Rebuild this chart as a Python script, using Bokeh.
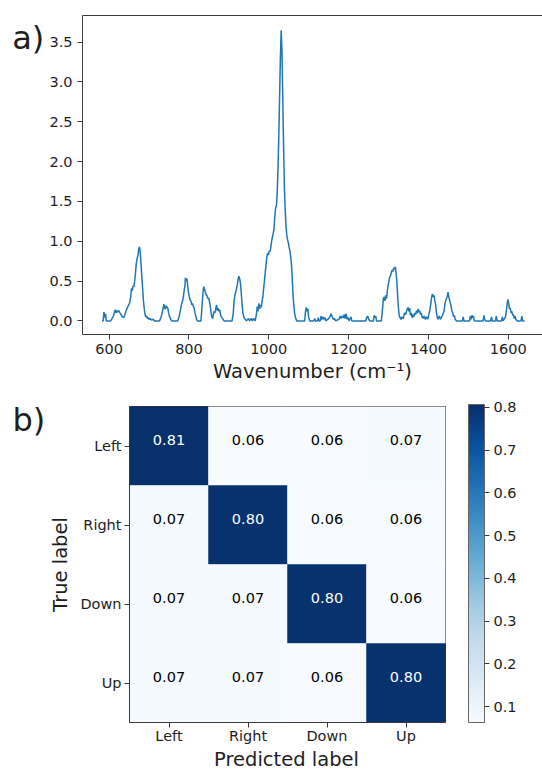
from bokeh.plotting import figure
from bokeh.layouts import column, row
from bokeh.models import (ColumnDataSource, LinearColorMapper, ColorBar, FixedTicker,
                          PrintfTickFormatter, LinearAxis, Range1d)
from bokeh.palettes import Blues256
from bokeh.transform import transform
from bokeh.core.properties import value
from bokeh.embed import file_html
from bokeh.resources import INLINE

FONT = "DejaVu Sans"

# ---------------- data: spectrum ----------------
wavenumber = [
    582, 585, 587, 589, 591, 593, 604, 607, 610, 613, 615, 617, 619, 621, 624, 627, 630, 633, 636, 639,
    642, 645, 648, 651, 654, 656, 658, 660, 662, 664, 666, 668, 670, 672, 674, 676, 678, 680, 682, 684,
    686, 688, 690, 692, 694, 696, 698, 700, 703, 706, 710, 714, 726, 729, 732, 735, 737, 739, 741, 743,
    745, 747, 749, 751, 754, 757, 772, 775, 778, 781, 784, 786, 788, 790, 791, 793, 795, 797, 799, 801,
    803, 805, 807, 809, 811, 813, 815, 817, 819, 821, 830, 833, 835, 837, 839, 841, 843, 845, 847, 849,
    851, 853, 855, 857, 859, 861, 863, 865, 867, 869, 871, 873, 875, 877, 879, 881, 884, 888, 908, 911,
    913, 915, 918, 921, 923, 925, 927, 929, 931, 933, 935, 938, 941, 944, 949, 952, 956, 959, 962, 966,
    969, 971, 973, 975, 977, 979, 981, 983, 985, 987, 989, 991, 993, 995, 997, 999, 1001, 1003, 1005, 1007,
    1009, 1011, 1013, 1015, 1017, 1019, 1021, 1023, 1025, 1027, 1029, 1031, 1033, 1035, 1037, 1039, 1041, 1043, 1045, 1047,
    1049, 1051, 1053, 1055, 1057, 1059, 1061, 1063, 1065, 1067, 1070, 1090, 1092, 1094, 1096, 1098, 1100, 1103, 1113, 1115,
    1117, 1122, 1124, 1126, 1129, 1131, 1133, 1136, 1138, 1141, 1143, 1150, 1153, 1156, 1159, 1162, 1165, 1167, 1176, 1179,
    1181, 1184, 1187, 1189, 1191, 1194, 1196, 1199, 1201, 1206, 1208, 1243, 1245, 1248, 1250, 1253, 1262, 1264, 1266, 1268,
    1270, 1282, 1285, 1287, 1289, 1291, 1293, 1295, 1297, 1299, 1301, 1303, 1305, 1307, 1309, 1311, 1313, 1315, 1317, 1319,
    1321, 1323, 1325, 1327, 1329, 1331, 1334, 1337, 1340, 1343, 1346, 1349, 1351, 1353, 1355, 1357, 1359, 1361, 1363, 1366,
    1368, 1370, 1372, 1374, 1376, 1378, 1380, 1382, 1384, 1386, 1389, 1392, 1395, 1398, 1401, 1404, 1406, 1408, 1410, 1412,
    1414, 1416, 1418, 1420, 1422, 1424, 1427, 1430, 1433, 1436, 1439, 1441, 1443, 1445, 1447, 1449, 1451, 1453, 1455, 1457,
    1459, 1461, 1463, 1465, 1467, 1470, 1485, 1487, 1489, 1503, 1505, 1507, 1509, 1511, 1513, 1515, 1537, 1539, 1541, 1543,
    1556, 1558, 1560, 1568, 1570, 1572, 1583, 1585, 1587, 1593, 1595, 1597, 1599, 1601, 1603, 1605, 1607, 1609, 1611, 1613,
    1615, 1617, 1619, 1622, 1632, 1634, 1636, 1641,
]
intensity = [
    0, 0, 0.11, 0.04, 0.09, 0, 0, 0.03, 0.05, 0.10, 0.14, 0.10, 0.13, 0.11, 0.13, 0.10, 0.08, 0.05, 0.04, 0.07,
    0.12, 0.16, 0.19, 0.22, 0.30, 0.41, 0.38, 0.44, 0.43, 0.50, 0.60, 0.72, 0.78, 0.82, 0.90, 0.93, 0.85, 0.70, 0.55, 0.40,
    0.25, 0.15, 0.08, 0.05, 0.06, 0.03, 0.04, 0.02, 0.03, 0.01, 0.02, 0, 0, 0.03, 0.08, 0.15, 0.21, 0.16, 0.15, 0.19,
    0.17, 0.16, 0.10, 0.06, 0.02, 0, 0, 0.05, 0.12, 0.20, 0.25, 0.30, 0.38, 0.45, 0.54, 0.50, 0.53, 0.43, 0.35, 0.30,
    0.26, 0.25, 0.20, 0.22, 0.18, 0.16, 0.10, 0.06, 0.02, 0, 0, 0.20, 0.35, 0.43, 0.40, 0.36, 0.33, 0.32, 0.28, 0.29,
    0.25, 0.20, 0.12, 0.05, 0.03, 0.08, 0.12, 0.10, 0.15, 0.20, 0.13, 0.16, 0.12, 0.14, 0.08, 0.05, 0.03, 0, 0, 0.10,
    0.25, 0.32, 0.38, 0.45, 0.52, 0.56, 0.53, 0.47, 0.35, 0.22, 0.10, 0.04, 0.02, 0, 0.03, 0, 0.03, 0, 0.03, 0,
    0.08, 0.18, 0.12, 0.22, 0.15, 0.20, 0.17, 0.24, 0.30, 0.40, 0.50, 0.60, 0.70, 0.80, 0.85, 0.83, 0.88, 0.87, 0.92, 1.00,
    1.05, 1.10, 1.15, 1.30, 1.42, 1.44, 1.60, 1.90, 2.30, 2.80, 3.30, 3.65, 3.40, 2.80, 2.20, 1.70, 1.40, 1.20, 1.08, 1.02,
    0.98, 0.92, 0.88, 0.80, 0.70, 0.50, 0.30, 0.18, 0.08, 0.04, 0, 0, 0.12, 0.17, 0.12, 0.15, 0.04, 0, 0, 0.03,
    0, 0, 0.04, 0, 0, 0.06, 0.02, 0.05, 0.02, 0.04, 0, 0.03, 0.05, 0.09, 0.05, 0.02, 0.03, 0, 0.02, 0.06,
    0.03, 0.06, 0.04, 0.08, 0.03, 0.09, 0.02, 0.04, 0, 0.05, 0, 0, 0.04, 0.06, 0.02, 0, 0, 0.07, 0.04, 0.06,
    0, 0, 0.15, 0.28, 0.30, 0.25, 0.32, 0.28, 0.38, 0.45, 0.50, 0.55, 0.57, 0.60, 0.64, 0.62, 0.67, 0.65, 0.68, 0.60,
    0.48, 0.30, 0.15, 0.06, 0.04, 0.02, 0.05, 0.03, 0.10, 0.08, 0.14, 0.17, 0.12, 0.16, 0.07, 0.10, 0.04, 0.08, 0.05, 0.10,
    0.08, 0.13, 0.10, 0.15, 0.11, 0.13, 0.08, 0.10, 0.05, 0.03, 0.06, 0.02, 0.05, 0.02, 0.08, 0.15, 0.22, 0.30, 0.34, 0.30,
    0.32, 0.25, 0.20, 0.10, 0.05, 0.02, 0.06, 0.02, 0.05, 0.08, 0.12, 0.20, 0.25, 0.28, 0.30, 0.36, 0.30, 0.26, 0.22, 0.18,
    0.12, 0.10, 0.05, 0.07, 0.02, 0, 0, 0.05, 0, 0, 0.06, 0.02, 0.07, 0.04, 0.06, 0, 0, 0.07, 0.02, 0,
    0, 0.05, 0, 0, 0.06, 0, 0, 0.05, 0, 0.05, 0.12, 0.20, 0.27, 0.22, 0.15, 0.16, 0.10, 0.12, 0.07, 0.08,
    0.03, 0.06, 0.02, 0, 0, 0.06, 0, 0,
]
spec_xticks = [600, 800, 1000, 1200, 1400, 1600]
spec_yticks = [0.0, 0.5, 1.0, 1.5, 2.0, 2.5, 3.0, 3.5]

# ---------------- data: confusion matrix ----------------
classes = ["Left", "Right", "Down", "Up"]
row_left = [0.81, 0.06, 0.06, 0.07]
row_right = [0.07, 0.80, 0.06, 0.06]
row_down = [0.07, 0.07, 0.80, 0.06]
row_up = [0.07, 0.07, 0.06, 0.80]
cbar_ticks = [0.1, 0.2, 0.3, 0.4, 0.5, 0.6, 0.7, 0.8]
cbar_low, cbar_high = 0.063, 0.807

AX = "#3a3a3a"
TXT = "#1e1e1e"


def text_strip(w, h, txt, tx, ty, size, align):
    """A blank canvas (pixel coordinates) holding one piece of text."""
    f = figure(width=w, height=h, x_range=Range1d(0, w), y_range=Range1d(0, h),
               x_axis_type=None, y_axis_type=None, min_border=0,
               output_backend="svg", toolbar_location=None)
    f.outline_line_color = None
    f.grid.visible = False
    f.text(x=[tx], y=[ty], text=[txt], text_font=value(FONT), text_font_size=size,
           text_color=TXT, text_align=align, text_baseline="alphabetic")
    return f


LW = 46
W = 542 - LW
FL1 = 81 - LW      # left border of panel a) so that its frame starts at x=81
FL2 = 127 - LW     # left border of panel b) so that its frame starts at x=127

# ================= panel a) =================
H1 = 388
p1 = figure(width=W, height=H1,
            x_range=Range1d(533.25, 533.25 + (W - FL1) / 0.4), y_range=Range1d(-0.171, 3.835),
            output_backend="svg", toolbar_location=None,
            min_border_left=FL1, min_border_right=0, min_border_top=15, min_border_bottom=54)
p1.line(wavenumber, intensity, line_color="#1f77b4", line_width=1.5)
p1.xgrid.visible = False
p1.ygrid.visible = False
p1.outline_line_color = None

xax = p1.below[0]
yax = p1.left[0]
top_ax = LinearAxis(ticker=FixedTicker(ticks=[]), major_tick_line_color=None,
                    minor_tick_line_color=None, major_label_text_font_size="0px",
                    major_label_standoff=0, axis_line_color=AX, axis_line_width=1)
p1.add_layout(top_ax, "above")

xax.ticker = FixedTicker(ticks=spec_xticks)
yax.ticker = FixedTicker(ticks=spec_yticks)
yax.formatter = PrintfTickFormatter(format="%.1f")
for ax in (xax, yax):
    ax.minor_tick_line_color = None
    ax.major_tick_in = 0
    ax.major_tick_out = 5
    ax.major_tick_line_color = AX
    ax.axis_line_color = AX
    ax.major_label_text_font = FONT
    ax.major_label_text_font_size = "14.5px"
    ax.major_label_text_color = TXT
xax.major_label_standoff = 4
yax.major_label_standoff = 5
xax.axis_label = "Wavenumber (cm\u207b\u00b9)"
xax.axis_label_text_font = FONT
xax.axis_label_text_font_style = "normal"
xax.axis_label_text_font_size = "19.5px"
xax.axis_label_text_color = TXT
xax.axis_label_standoff = 3

lab_a = text_strip(LW, H1, "a)", 11.7, H1 - 27.5, "32px", "left")

# ================= panel b) =================
pred, true, vals = [], [], []
for name, rowvals in zip(classes, [row_left, row_right, row_down, row_up]):
    for c, v in zip(classes, rowvals):
        pred.append(c)
        true.append(name)
        vals.append(v)
src = ColumnDataSource(dict(
    pred=pred, true=true, val=vals,
    label=["%.2f" % v for v in vals],
    tcolor=["white" if v > max(vals) / 2 else "black" for v in vals],
))

mapper = LinearColorMapper(palette=list(reversed(Blues256)), low=cbar_low, high=cbar_high)

H2 = 358
p2 = figure(x_range=classes, y_range=list(reversed(classes)),
            width=W, height=H2,
            output_backend="svg", toolbar_location=None,
            min_border_left=FL2, min_border_right=W - FL2 - 318, min_border_top=18, min_border_bottom=22)
p2.rect(x="pred", y="true", width=1, height=1, source=src,
        fill_color=transform("val", mapper), line_color=transform("val", mapper), line_width=0.5)
p2.text(x="pred", y="true", text="label", source=src, text_align="center", text_baseline="middle",
        text_color="tcolor", text_font=value(FONT), text_font_size="14.5px", y_offset=-6)
p2.xgrid.visible = False
p2.ygrid.visible = False
p2.outline_line_color = AX
p2.x_range.range_padding = 0
p2.y_range.range_padding = 0

for ax in (p2.xaxis[0], p2.yaxis[0]):
    ax.major_tick_in = 0
    ax.major_tick_out = 5
    ax.major_tick_line_color = AX
    ax.axis_line_color = AX
    ax.major_label_text_font = FONT
    ax.major_label_text_font_size = "14.5px"
    ax.major_label_text_color = TXT
p2.xaxis[0].major_label_standoff = 0
p2.yaxis[0].major_label_standoff = 3
p2.yaxis[0].axis_label = "True label"
p2.yaxis[0].axis_label_text_font = FONT
p2.yaxis[0].axis_label_text_font_style = "normal"
p2.yaxis[0].axis_label_text_font_size = "19.5px"
p2.yaxis[0].axis_label_text_color = TXT
p2.yaxis[0].axis_label_standoff = 5

cb = ColorBar(color_mapper=mapper, ticker=FixedTicker(ticks=cbar_ticks),
              formatter=PrintfTickFormatter(format="%.1f"),
              width=16, height=318, location=(23, 0), margin=0, padding=0,
              bar_line_color="#666666", major_tick_in=0, major_tick_out=5,
              major_tick_line_color=AX, label_standoff=4,
              major_label_text_font=FONT, major_label_text_font_size="14.5px",
              major_label_text_color=TXT, border_line_color=None,
              background_fill_alpha=0)
p2.add_layout(cb, "right")

lab_b = text_strip(LW, H2, "b)", 12, H2 - 15, "32px", "left")
H3 = 770 - H1 - H2
xlab = text_strip(542, H3, "Predicted label", 286, 11.5, "19.5px", "center")

layout = column(row(lab_a, p1, spacing=0), row(lab_b, p2, spacing=0), xlab, spacing=0)
open("out.html", "w").write(file_html(layout, INLINE))
